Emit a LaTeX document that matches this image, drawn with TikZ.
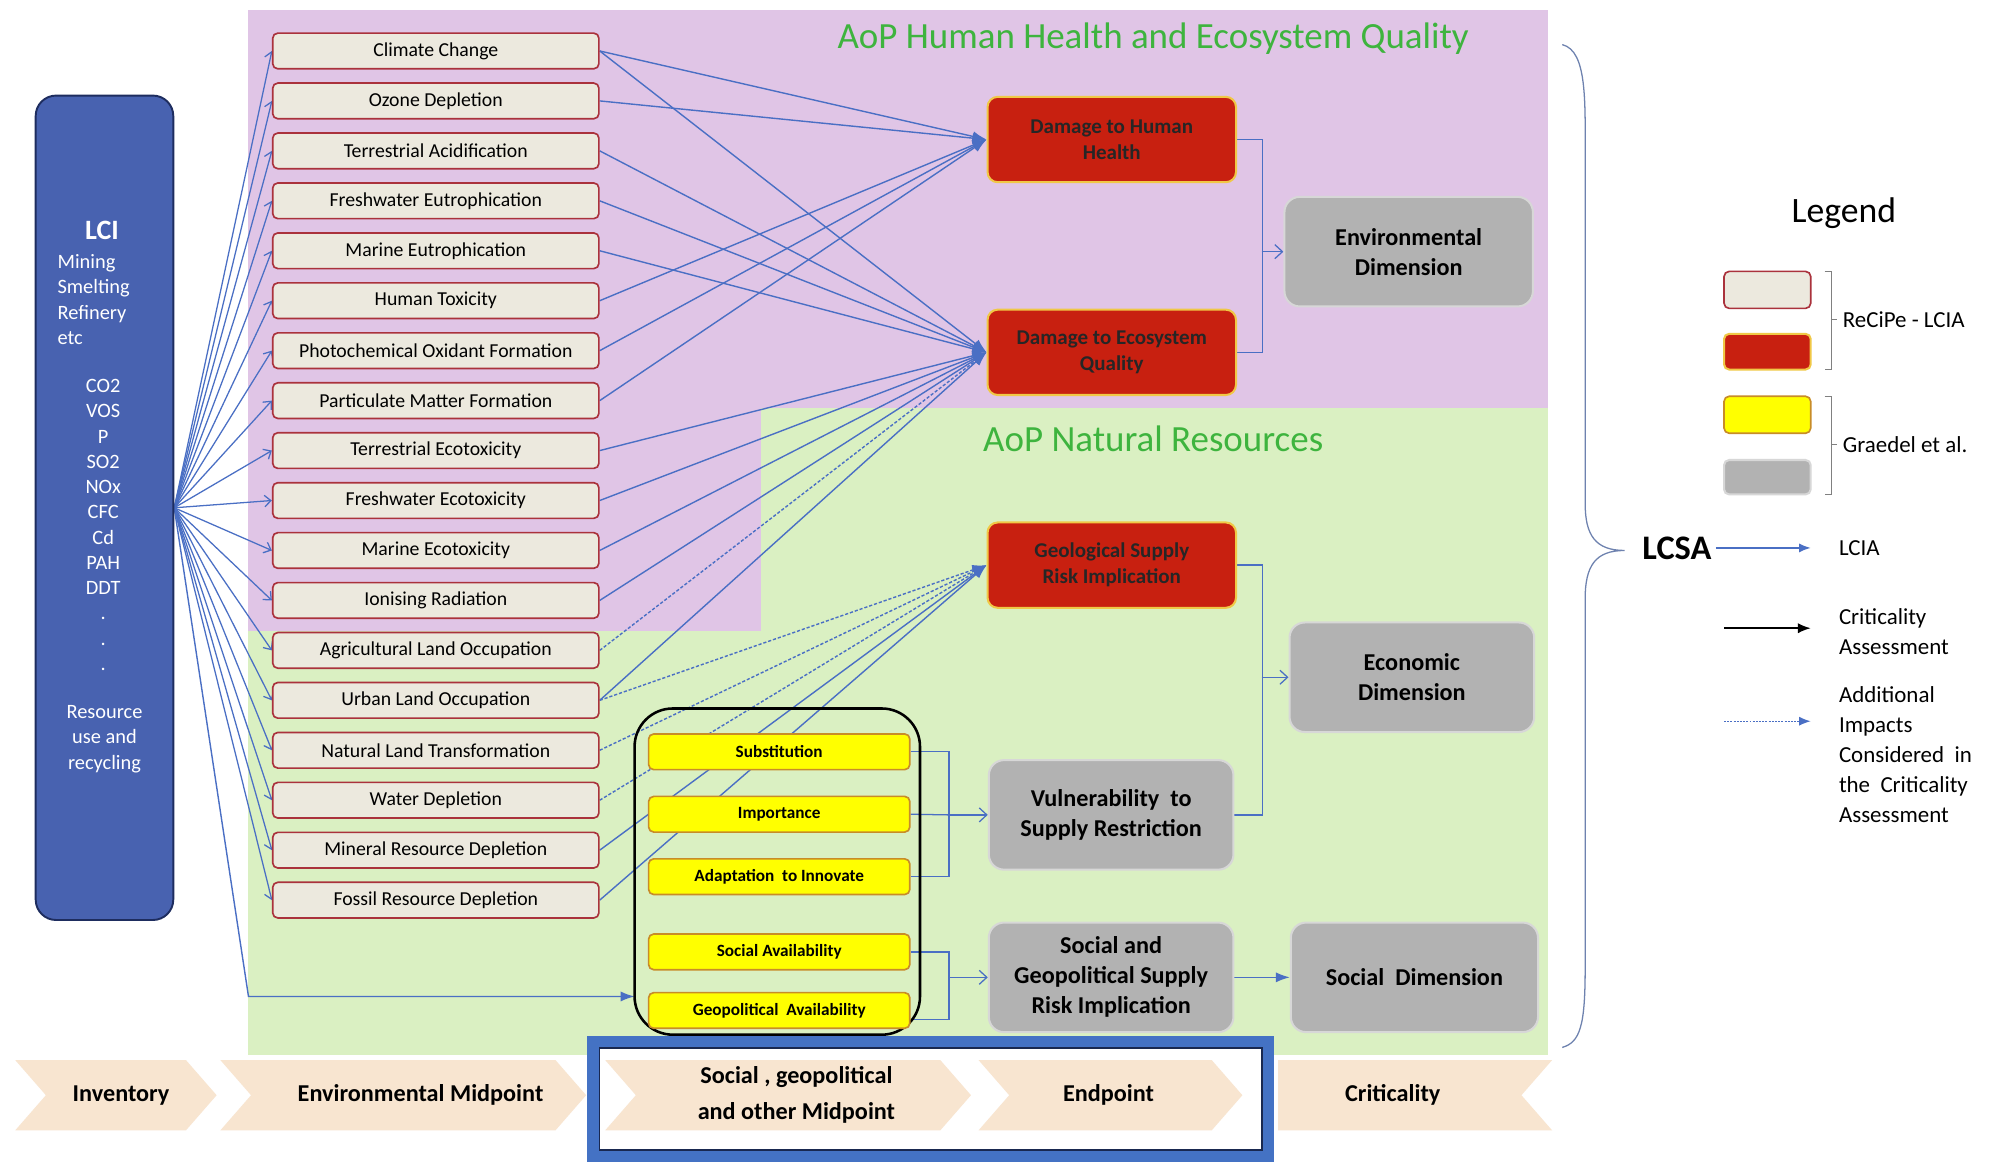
\documentclass[tikz,border=0pt]{standalone}
\usepackage{fontspec}
\setmainfont{Carlito}
\usetikzlibrary{arrows.meta,calc}
\pgfdeclarelayer{bg}
\pgfdeclarelayer{lines}
\pgfsetlayers{bg,lines,main}
\definecolor{pinkbg}{RGB}{224,197,230}
\definecolor{greenbg}{RGB}{218,240,194}
\definecolor{midfill}{RGB}{236,233,222}
\definecolor{midborder}{RGB}{170,50,60}
\definecolor{dmgred}{RGB}{200,32,16}
\definecolor{dmgborder}{RGB}{240,200,70}
\definecolor{ylw}{RGB}{255,255,0}
\definecolor{ylwborder}{RGB}{200,140,40}
\definecolor{grayfill}{RGB}{178,178,178}
\definecolor{grayborder}{RGB}{215,215,215}
\definecolor{lciblue}{RGB}{72,98,176}
\definecolor{lciborder}{RGB}{30,45,95}
\definecolor{lineblue}{RGB}{74,111,196}
\definecolor{peach}{RGB}{248,229,208}
\definecolor{framblue}{RGB}{68,114,196}
\definecolor{framdark}{RGB}{25,40,80}
\definecolor{titlegreen}{RGB}{62,180,62}
\definecolor{bracegray}{RGB}{110,130,175}
\newcommand\myfs[2]{\fontsize{#1}{#2}\selectfont}
\begin{document}
\begin{tikzpicture}[x=1pt,y=-1pt,
  midbox/.style={draw=midborder, fill=midfill, line width=1.3pt, rounded corners=4pt, minimum width=256pt, minimum height=28pt, inner sep=0pt, font=\myfs{15.5}{18}},
  dmgbox/.style={draw=dmgborder, fill=dmgred, line width=1.6pt, rounded corners=8pt, minimum width=195pt, minimum height=67pt, align=center, font=\bfseries\myfs{16.5}{20.5}, text=black!85},
  graybox/.style={draw=grayborder, fill=grayfill, line width=1.6pt, rounded corners=12pt, minimum width=193pt, minimum height=86pt, align=center, font=\bfseries\myfs{19}{23.5}},
  ylwbox/.style={draw=ylwborder, fill=ylw, line width=1.3pt, rounded corners=4pt, minimum width=205pt, minimum height=28pt, inner sep=0pt, font=\bfseries\myfs{13.5}{16}},
  fan/.style={draw=lineblue, line width=1pt, -{Straight Barb[length=5pt,width=9pt]}},
  imp/.style={draw=lineblue, line width=1.1pt, -{Latex[length=11pt,width=8pt]}},
  impd/.style={imp, dash pattern=on 2.5pt off 1.5pt},
  conn/.style={draw=lineblue, line width=1pt},
  connar/.style={conn, -{Straight Barb[length=6pt,width=11pt]}},
  bandtxt/.style={font=\bfseries\myfs{19}{28}, align=center},
  legtxt/.style={font=\myfs{18}{23.5}, anchor=west, align=left, inner sep=0pt},
  lcitxt/.style={text=white, font=\myfs{16}{19.8}, inner sep=0pt}
]
\useasboundingbox (0,0) rectangle (1568,912);

% ---------- backgrounds ----------
\begin{pgfonlayer}{bg}
\fill[white] (0,0) rectangle (1568,912);
\fill[greenbg] (195,320) rectangle (1215,828);
\fill[pinkbg] (195,8) rectangle (1215,320);
\fill[pinkbg] (195,320) rectangle (597,495);
\fill[white] (461,813) rectangle (1000,912);
\fill[peach] (12,832) -- (146,832) -- (170,859.5) -- (146,887) -- (12,887) -- (36,859.5) -- cycle;
\fill[peach] (173,832) -- (436,832) -- (460,859.5) -- (436,887) -- (173,887) -- (197,859.5) -- cycle;
\fill[peach] (475,832) -- (738,832) -- (762,859.5) -- (738,887) -- (475,887) -- (499,859.5) -- cycle;
\fill[peach] (768,832) -- (951,832) -- (975,859.5) -- (951,887) -- (768,887) -- (792,859.5) -- cycle;
\fill[peach] (1003,832) -- (1218,832) -- (1194,859.5) -- (1218,887) -- (1003,887) -- cycle;
\end{pgfonlayer}

% ---------- titles ----------
\node[font=\myfs{29}{34}, text=titlegreen] (t1) at (905,30) {AoP Human Health and Ecosystem Quality};
\node[font=\myfs{29}{34}, text=titlegreen] (t2) at (905,344) {AoP Natural Resources};

% ---------- LCI ----------
\node[draw=lciborder, fill=lciblue, line width=1.5pt, rounded corners=16pt, minimum width=108pt, minimum height=647pt] (lci) at (82,398.5) {};
\node[text=white, font=\bfseries\myfs{22}{26}] (lcit) at (80,181) {LCI};
\node[lcitxt, align=left, anchor=west] (lcip) at (45,235) {Mining\\Smelting\\Refinery\\etc};
\node[lcitxt, align=center] (lcie) at (81,412) {CO2\\VOS\\P\\SO2\\NOx\\CFC\\Cd\\PAH\\DDT\\.\\.\\.};
\node[lcitxt, align=center] (lcir) at (82,580) {Resource\\use and\\recycling};

% ---------- midpoint boxes ----------
\foreach \i/\t in {1/Climate Change,2/Ozone Depletion,3/Terrestrial Acidification,4/Freshwater Eutrophication,5/Marine Eutrophication,6/Human Toxicity,7/Photochemical Oxidant Formation,8/Particulate Matter Formation,9/Terrestrial Ecotoxicity,10/Freshwater Ecotoxicity,11/Marine Ecotoxicity,12/Ionising Radiation,13/Agricultural Land Occupation,14/Urban Land Occupation,15/Natural Land Transformation,16/Water Depletion,17/Mineral Resource Depletion,18/Fossil Resource Depletion}
  \node[midbox] (m\i) at (342,{40+(\i-1)*39.2}) {\t};

% ---------- damage boxes ----------
\node[dmgbox] (dhh) at (872.5,109.5) {Damage to Human\\Health};
\node[dmgbox] (deq) at (872.5,276.5) {Damage to Ecosystem\\Quality};
\node[dmgbox] (gsri) at (872.5,443.5) {Geological Supply\\Risk Implication};

% ---------- gray boxes ----------
\node[graybox, minimum width=195pt] (env) at (1105.5,197.5) {Environmental\\Dimension};
\node[graybox, minimum width=192pt] (econ) at (1108,531.5) {Economic\\Dimension};
\node[graybox, minimum width=192pt] (vuln) at (872,639.5) {Vulnerability\ \ to\\Supply Restriction};
\node[graybox, minimum width=192pt] (sgsri) at (872,767) {Social and\\Geopolitical Supply\\Risk Implication};
\node[graybox, minimum width=194pt] (socdim) at (1110,767) {Social\ \ Dimension};

% ---------- yellow boxes ----------
\node[draw=black, line width=2pt, rounded corners=30pt, minimum width=224pt, minimum height=256pt] (encl) at (610,684) {};
\node[ylwbox] (sub) at (611.5,590) {Substitution};
\node[ylwbox] (imp) at (611.5,639) {Importance};
\node[ylwbox] (ada) at (611.5,688) {Adaptation\ \ to Innovate};
\node[ylwbox] (soc) at (611.5,747) {Social Availability};
\node[ylwbox] (geo) at (611.5,793) {Geopolitical\ \ Availability};

% ---------- connector coordinates ----------
\coordinate (gpbend) at (195,782);
\coordinate (gpin) at (498,782);
\coordinate (envj) at (990,197.5);
\coordinate (ecoj) at (990,531.5);
\coordinate (vulj) at (744,639.5);
\coordinate (sgj) at (744,767);

% ---------- connectors ----------
\begin{pgfonlayer}{lines}
\foreach \i in {1,...,18} \draw[fan] (lci.east) -- (m\i.west);
\draw[imp] (lci.east) -- (gpbend) -- (gpin);
\foreach \i in {1,2,6,7,8} \draw[imp] (m\i.east) -- (dhh.west);
\foreach \i in {1,3,4,5,9,10,11,12,14} \draw[imp] (m\i.east) -- (deq.west);
\draw[impd] (m13.east) -- (deq.west);
\foreach \i in {14,15,16} \draw[impd] (m\i.east) -- (gsri.west);
\foreach \i in {17,18} \draw[imp] (m\i.east) -- (gsri.west);
\draw[conn] (dhh.east) -- ++(20,0) |- (deq.east);
\draw[connar] (envj) -- (env.west);
\draw[conn] (gsri.east) -- ++(20,0) |- (vuln.east);
\draw[connar] (ecoj) -- (econ.west);
\draw[conn] (sub.east) -- ++(30,0) |- (ada.east);
\draw[conn] (imp.east) -- (vulj);
\draw[connar] (vulj) -- (vuln.west);
\draw[conn] (soc.east) -- ++(30,0) |- ($(geo.east)+(0,7)$);
\draw[connar] (sgj) -- (sgsri.west);
\draw[imp] (sgsri.east) -- (socdim.west);
\end{pgfonlayer}

% ---------- bottom band ----------
\node[bandtxt] (bInv) at (95,859.5) {Inventory};
\node[bandtxt] (bEnv) at (330,859.5) {Environmental Midpoint};
\node[bandtxt] (bSoc) at (625,859.5) {Social , geopolitical\\and other Midpoint};
\node[bandtxt] (bEnd) at (870,859.5) {Endpoint};
\node[bandtxt] (bCri) at (1093,859.5) {Criticality};
\draw[framblue, line width=9pt] (465.5,817.5) rectangle (995.5,907.5);
\draw[framdark, line width=1.2pt] (470.5,822.5) rectangle (990.5,902.5);

% ---------- brace and LCSA ----------
\draw[bracegray, line width=1pt] (1226,35) .. controls (1246,40) and (1244,80) .. (1244,130) -- (1244,395) .. controls (1244,420) and (1252,432) .. (1275,432) .. controls (1252,432) and (1244,444) .. (1244,470) -- (1244,760) .. controls (1244,805) and (1240,818) .. (1226,822);
\node[font=\bfseries\myfs{27}{30}] (lcsa) at (1316,430) {LCSA};

% ---------- legend ----------
\node[font=\myfs{28}{32}] (legt) at (1447,167) {Legend};
\node[midbox, minimum width=68pt, minimum height=29pt] (lb1) at (1387,227.5) {};
\node[dmgbox, minimum width=68pt, minimum height=28pt, rounded corners=4pt] (lb2) at (1387,276) {};
\node[ylwbox, minimum width=68pt, minimum height=29pt] (lb3) at (1387,325.5) {};
\node[graybox, minimum width=68pt, minimum height=27pt, rounded corners=4pt] (lb4) at (1387,374.5) {};
\draw[gray, line width=0.8pt] (1432,213) -- (1437,213) -- (1437,290) -- (1432,290) (1437,251) -- (1442,251);
\draw[gray, line width=0.8pt] (1432,311) -- (1437,311) -- (1437,388) -- (1432,388) (1437,349) -- (1442,349);
\node[legtxt] (lg1) at (1446,251) {ReCiPe - LCIA};
\node[legtxt] (lg2) at (1446,349) {Graedel et al.};
\node[legtxt] (lgcia) at (1443,430) {LCIA};
\node[legtxt] (lgca) at (1443,496) {Criticality\\Assessment};
\node[legtxt] (lgadd) at (1443,592) {Additional\\Impacts\\Considered\ \ in\\the\ \ Criticality\\Assessment};
\coordinate (la1e) at (1421,430);
\coordinate (la2s) at (1353,493);
\coordinate (la2e) at (1421,493);
\coordinate (la3s) at (1353,566);
\coordinate (la3e) at (1421,566);
\draw[draw=lineblue, line width=1.1pt, -{Latex[length=9pt,width=7pt]}] (lcsa.east) -- (la1e);
\draw[line width=1.3pt, -{Latex[length=10pt,width=8pt]}] (la2s) -- (la2e);
\draw[draw=lineblue, line width=1pt, dash pattern=on 1.5pt off 1pt, -{Latex[length=9pt,width=7pt]}] (la3s) -- (la3e);
\end{tikzpicture}
\end{document}
